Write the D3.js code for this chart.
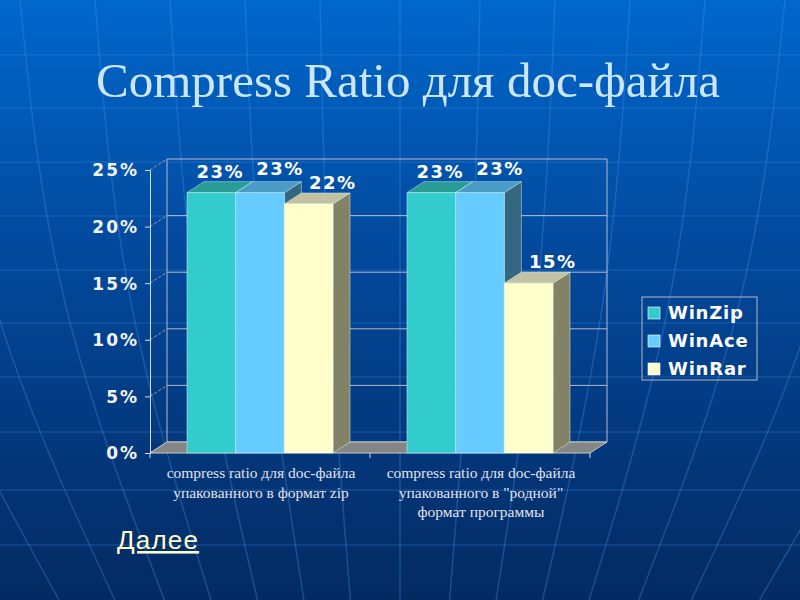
<!DOCTYPE html>
<html>
<head>
<meta charset="utf-8">
<script src="https://cdn.jsdelivr.net/npm/d3@7"></script>
<style>
  html, body { margin: 0; padding: 0; background: #023a8a; }
  svg { display: block; }
</style>
</head>
<body>
<div id="chart"></div>
<script>
// chart data
const categories = [
  ["compress ratio для doc-файла", "упакованного в формат zip"],
  ["compress ratio для doc-файла", "упакованного в \"родной\"", "формат программы"]
];
const series = ["WinZip", "WinAce", "WinRar"];
const winZip = [0.23, 0.23];
const winAce = [0.23, 0.23];
const winRar = [0.22, 0.15];
const yTicks = [0, 0.05, 0.10, 0.15, 0.20, 0.25];

const values = [winZip, winAce, winRar];

// colours: front, top, side
const colors = {
  WinZip: ["#33cccc", "#2a9c96", "#227a78"],
  WinAce: ["#66ccff", "#4a9cc4", "#34667f"],
  WinRar: ["#ffffcc", "#c2c2a2", "#828266"]
};

const W = 800, H = 600;
const plot = {left: 150, right: 590, top: 170, bottom: 453};
const depth = {dx: 17, dy: -11};

const svg = d3.select("#chart")
  .append("svg")
    .attr("width", W)
    .attr("height", H);

// background
const defs = svg.append("defs");
const grad = defs.append("linearGradient")
    .attr("id", "bg")
    .attr("x1", 0).attr("y1", 0).attr("x2", 0).attr("y2", 1);
grad.append("stop").attr("offset", "0%").attr("stop-color", "#0068cc");
grad.append("stop").attr("offset", "40%").attr("stop-color", "#024a9e");
grad.append("stop").attr("offset", "100%").attr("stop-color", "#042a62");

svg.append("rect")
    .attr("width", W).attr("height", H)
    .attr("fill", "url(#bg)");

// faint globe grid in the background
const deco = svg.append("g")
    .attr("fill", "none")
    .attr("stroke", "#3f8ee8")
    .attr("stroke-width", 1.5);

[55, 108, 162, 216, 270, 323, 377, 432, 490, 545].forEach(function(yy) {
  deco.append("line")
      .attr("x1", 0).attr("x2", W)
      .attr("y1", yy).attr("y2", yy)
      .attr("opacity", 0.25);
});

const curve = d3.line().curve(d3.curveBasis);
[-260, -150, -60, 20, 95, 170, 245, 320, 400, 480, 555, 630, 705, 785, 870, 980].forEach(function(xt) {
  const xb = 400 + (xt - 400) * 0.62;
  const xm = 400 + (xt - 400) * 0.92;
  deco.append("path")
      .attr("d", curve([[xt, 0], [xm, 300], [xb, 600]]))
      .attr("opacity", 0.35);
});

// title
svg.append("text")
    .attr("x", 408)
    .attr("y", 97)
    .attr("text-anchor", "middle")
    .attr("font-family", "'Liberation Serif', 'Times New Roman', serif")
    .attr("font-size", 49)
    .attr("fill", "#cde6ff")
    .text("Compress Ratio для doc-файла");

// scales
const x0 = d3.scaleBand()
    .domain(d3.range(categories.length))
    .range([plot.left, plot.right])
    .paddingInner(0.336)
    .paddingOuter(0.168);

const x1 = d3.scaleBand()
    .domain(series)
    .range([0, x0.bandwidth()]);

const y = d3.scaleLinear()
    .domain([0, 0.25])
    .range([plot.bottom, plot.top]);

const pct = d3.format(".0%");

const chart = svg.append("g");

// back wall gridlines
chart.append("g")
  .selectAll("line")
  .data(yTicks)
  .enter()
  .append("line")
    .attr("x1", plot.left + depth.dx)
    .attr("x2", plot.right + depth.dx)
    .attr("y1", d => y(d) + depth.dy)
    .attr("y2", d => y(d) + depth.dy)
    .attr("stroke", "#b8b8c8")
    .attr("stroke-width", 1);

// back wall verticals
[plot.left, plot.right].forEach(function(xx) {
  chart.append("line")
      .attr("x1", xx + depth.dx).attr("x2", xx + depth.dx)
      .attr("y1", y(0) + depth.dy).attr("y2", y(0.25) + depth.dy)
      .attr("stroke", "#b8b8c8");
});

// dashed diagonals on the side wall
chart.append("g")
  .selectAll("line")
  .data(yTicks)
  .enter()
  .append("line")
    .attr("x1", plot.left)
    .attr("x2", plot.left + depth.dx)
    .attr("y1", d => y(d))
    .attr("y2", d => y(d) + depth.dy)
    .attr("stroke", "#a0a0b0")
    .attr("stroke-dasharray", "3,2");

// floor
chart.append("path")
    .attr("d", "M" + plot.left + "," + y(0) +
               "L" + (plot.left + depth.dx) + "," + (y(0) + depth.dy) +
               "L" + (plot.right + depth.dx) + "," + (y(0) + depth.dy) +
               "L" + plot.right + "," + y(0) + "Z")
    .attr("fill", "#858585")
    .attr("stroke", "#c8c8c8")
    .attr("stroke-width", 1);

// bars
function barFaces(g, x, w, v, c) {
  const top = y(v), base = y(0);
  // side
  g.append("path")
      .attr("d", "M" + (x + w) + "," + base +
                 "L" + (x + w) + "," + top +
                 "L" + (x + w + depth.dx) + "," + (top + depth.dy) +
                 "L" + (x + w + depth.dx) + "," + (base + depth.dy) + "Z")
      .attr("fill", c[2]);
  // top
  g.append("path")
      .attr("d", "M" + x + "," + top +
                 "L" + (x + depth.dx) + "," + (top + depth.dy) +
                 "L" + (x + w + depth.dx) + "," + (top + depth.dy) +
                 "L" + (x + w) + "," + top + "Z")
      .attr("fill", c[1]);
  // front
  g.append("rect")
      .attr("x", x)
      .attr("y", top)
      .attr("width", w)
      .attr("height", base - top)
      .attr("fill", c[0]);
  g.selectAll("path, rect")
      .attr("stroke", "rgba(230,255,255,0.55)")
      .attr("stroke-width", 0.8)
      .attr("stroke-linejoin", "round");
}

const bars = chart.append("g");
categories.forEach(function(cat, i) {
  series.forEach(function(s, j) {
    barFaces(bars.append("g"), x0(i) + x1(s), x1.bandwidth(), values[j][i], colors[s]);
  });
});

// data labels
const labelNudge = [9, 20, 24];
const labels = chart.append("g")
    .attr("font-family", "'DejaVu Sans', Verdana, sans-serif")
    .attr("font-weight", "bold")
    .attr("font-size", 18)
    .attr("letter-spacing", 1.5)
    .attr("fill", "#ffffff")
    .attr("text-anchor", "middle");
categories.forEach(function(cat, i) {
  series.forEach(function(s, j) {
    labels.append("text")
        .attr("x", x0(i) + x1(s) + x1.bandwidth() / 2 + labelNudge[j])
        .attr("y", y(values[j][i]) + depth.dy - 4 - (j === 1 ? 3 : 0))
        .text(pct(values[j][i]));
  });
});

// front y axis
const yAxis = d3.axisLeft(y)
    .tickValues(yTicks)
    .tickFormat(pct)
    .tickSize(5)
    .tickPadding(6);

const ya = svg.append("g")
    .attr("transform", "translate(" + plot.left + ",0)")
    .call(yAxis);
ya.select(".domain").attr("stroke", "#d8d8e8");
ya.selectAll(".tick line").attr("stroke", "#d8d8e8");
ya.selectAll(".tick text")
    .attr("fill", "#f2f2f2")
    .attr("font-family", "'DejaVu Sans', Verdana, sans-serif")
    .attr("font-weight", "bold")
    .attr("font-size", 17)
    .attr("letter-spacing", 2)
    .attr("dy", "0.35em");

// x axis ticks on the floor front edge
const xTickPos = [plot.left, (plot.left + plot.right) / 2, plot.right];
svg.append("g")
  .selectAll("line")
  .data(xTickPos)
  .enter()
  .append("line")
    .attr("x1", d => d).attr("x2", d => d)
    .attr("y1", y(0)).attr("y2", y(0) + 5)
    .attr("stroke", "#d8d8e8");

// category labels
const catLabels = svg.append("g")
    .attr("font-family", "'Liberation Serif', 'Times New Roman', serif")
    .attr("font-size", 15.5)
    .attr("fill", "#e2e2ea")
    .attr("text-anchor", "middle");
categories.forEach(function(lines, i) {
  const cx = x0(i) + x0.bandwidth() / 2 + 1;
  const t = catLabels.append("text")
      .attr("x", cx)
      .attr("y", 478);
  lines.forEach(function(line, k) {
    t.append("tspan")
        .attr("x", cx)
        .attr("dy", k === 0 ? 0 : 19.5)
        .text(line);
  });
});

// legend
const legend = svg.append("g")
    .attr("transform", "translate(642,297)");
legend.append("rect")
    .attr("width", 115)
    .attr("height", 83)
    .attr("fill", "none")
    .attr("stroke", "#b8b8c8")
    .attr("stroke-width", 1);
const item = legend.selectAll(".item")
  .data(series)
  .enter()
  .append("g")
    .attr("class", "item")
    .attr("transform", (d, i) => "translate(6," + (10 + i * 28) + ")");
item.append("rect")
    .attr("width", 12)
    .attr("height", 12)
    .attr("fill", d => colors[d][0])
    .attr("stroke", "#ffffff")
    .attr("stroke-width", 0.6);
item.append("text")
    .attr("x", 20)
    .attr("y", 12)
    .attr("font-family", "'DejaVu Sans', Verdana, sans-serif")
    .attr("font-weight", "bold")
    .attr("font-size", 18)
    .attr("letter-spacing", 0.8)
    .attr("fill", "#ffffff")
    .text(d => d);

// link text
svg.append("text")
    .attr("x", 117)
    .attr("y", 549)
    .attr("font-family", "'Liberation Sans', Arial, sans-serif")
    .attr("font-size", 26)
    .attr("letter-spacing", 1.2)
    .attr("fill", "#ffffcc")
    .attr("text-decoration", "underline")
    .text("Далее");
</script>
</body>
</html>
